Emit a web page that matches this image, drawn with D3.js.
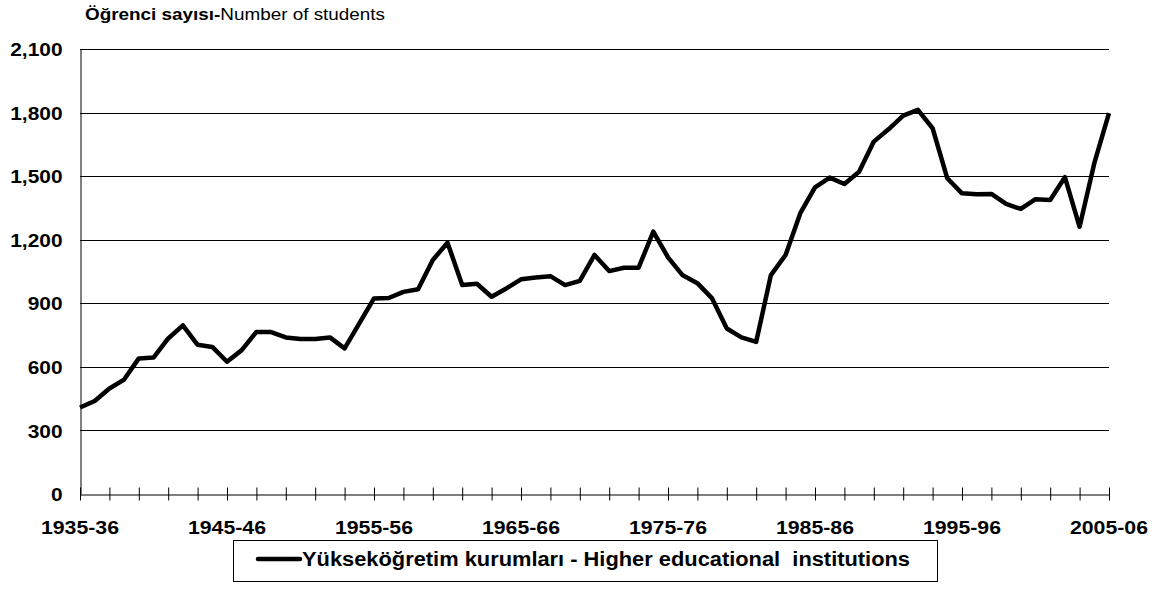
<!DOCTYPE html>
<html>
<head>
<meta charset="utf-8">
<script src="https://cdn.jsdelivr.net/npm/d3@7.9.0/dist/d3.min.js"></script>
<style>
  body { margin: 0; background: #fff; }
  svg { display: block; font-family: Arial, "Liberation Sans", sans-serif; }
</style>
</head>
<body>
<div id="chart"></div>
<script>
// academic years 1935-36 ... 2005-06
const startYears = d3.range(1935, 2006);
const seasons = startYears.map(y => y + '-' + String((y + 1) % 100).padStart(2, '0'));

// Yükseköğretim kurumları - students
const students = [
  408, 439, 498, 540, 640, 644, 734, 796, 704, 694,
  624, 679, 765, 764, 739, 731, 731, 739, 687, 805,
  923, 925, 954, 966, 1104, 1186, 986, 992, 931, 970,
  1013, 1022, 1028, 986, 1006, 1128, 1052, 1068, 1068, 1238,
  1117, 1032, 995, 923, 781, 739, 718, 1033, 1128, 1325,
  1447, 1493, 1463, 1521, 1663, 1721, 1786, 1813, 1726, 1490,
  1419, 1414, 1416, 1369, 1345, 1391, 1387, 1495, 1261, 1561, 1797
];

const yTicks = [0, 300, 600, 900, 1200, 1500, 1800, 2100];
const labelSeasons = ['1935-36', '1945-46', '1955-56', '1965-66', '1975-76', '1985-86', '1995-96', '2005-06'];
const legendLabel = 'Yükseköğretim kurumları - Higher educational\u00a0 institutions';

// the original text is a little wider than Arial, widen glyphs a bit
function stretch(sel, k) {
  sel.each(function () {
    const w = this.getComputedTextLength();
    d3.select(this).attr('textLength', w * k).attr('lengthAdjust', 'spacingAndGlyphs');
  });
}

function renderChart() {
  const width = 1158;
  const height = 613;
  const plot = { left: 80, right: 1109, top: 49, bottom: 494 };

  const xScale = d3.scalePoint()
    .domain(seasons)
    .range([plot.left, plot.right]);

  const yScale = d3.scaleLinear()
    .domain([0, 2100])
    .range([plot.bottom, plot.top]);

  const svg = d3.select('#chart')
    .append('svg')
    .attr('width', width)
    .attr('height', height);

  // title
  const title = svg.append('text')
    .attr('x', 85)
    .attr('y', 20)
    .style('font-size', '17px')
    .attr('fill', '#000');
  title.append('tspan').style('font-weight', 'bold').text('Öğrenci sayısı-');
  title.append('tspan').text('Number of students');
  stretch(title, 1.11);

  // horizontal grid lines
  svg.append('g')
    .selectAll('line')
    .data(yTicks.filter(d => d > 0))
    .join('line')
    .attr('x1', plot.left)
    .attr('x2', plot.right)
    .attr('y1', d => Math.round(yScale(d)) + 0.5)
    .attr('y2', d => Math.round(yScale(d)) + 0.5)
    .attr('stroke', '#000')
    .attr('stroke-width', 1);

  // Y axis
  const yAxis = svg.append('g')
    .attr('transform', `translate(${plot.left + 0.5}, 0.5)`)
    .call(d3.axisLeft(yScale).tickValues(yTicks).tickSize(0).tickPadding(18).tickFormat(d3.format(',')));
  yAxis.select('.domain').attr('stroke', '#000');
  yAxis.selectAll('text')
    .style('font-size', '19px')
    .style('font-weight', 'bold')
    .attr('fill', '#000')
    .call(stretch, 1.1);

  // X axis, tick every two years, crossing the axis
  const xAxis = svg.append('g')
    .attr('transform', `translate(0, ${plot.bottom + 0.5})`)
    .call(d3.axisBottom(xScale)
      .tickValues(seasons.filter((d, i) => i % 2 === 0))
      .tickSize(6)
      .tickSizeOuter(0)
      .tickFormat(''));
  xAxis.select('.domain').attr('stroke', '#000');
  xAxis.selectAll('.tick line')
    .attr('y1', -7)
    .attr('stroke', '#000');

  svg.append('g')
    .selectAll('text')
    .data(labelSeasons)
    .join('text')
    .attr('x', d => xScale(d))
    .attr('y', 534)
    .attr('text-anchor', 'middle')
    .style('font-size', '19px')
    .style('font-weight', 'bold')
    .attr('fill', '#000')
    .text(d => d)
    .call(stretch, 1.12);

  // the series
  const line = d3.line()
    .x((d, i) => xScale(seasons[i]))
    .y(d => yScale(d));

  svg.append('path')
    .datum(students)
    .attr('d', line)
    .attr('fill', 'none')
    .attr('stroke', '#000')
    .attr('stroke-width', 4.5)
    .attr('stroke-linejoin', 'round');

  // legend
  const legend = svg.append('g');
  legend.append('rect')
    .attr('x', 233.5)
    .attr('y', 540.5)
    .attr('width', 704)
    .attr('height', 41)
    .attr('fill', '#fff')
    .attr('stroke', '#000');
  legend.append('line')
    .attr('x1', 258)
    .attr('x2', 300)
    .attr('y1', 559)
    .attr('y2', 559)
    .attr('stroke', '#000')
    .attr('stroke-width', 4.5)
    .attr('stroke-linecap', 'round');
  legend.append('text')
    .attr('x', 302)
    .attr('y', 566)
    .style('font-size', '19.5px')
    .style('font-weight', 'bold')
    .attr('fill', '#000')
    .text(legendLabel)
    .call(stretch, 1.12);
}

renderChart();
</script>
</body>
</html>
